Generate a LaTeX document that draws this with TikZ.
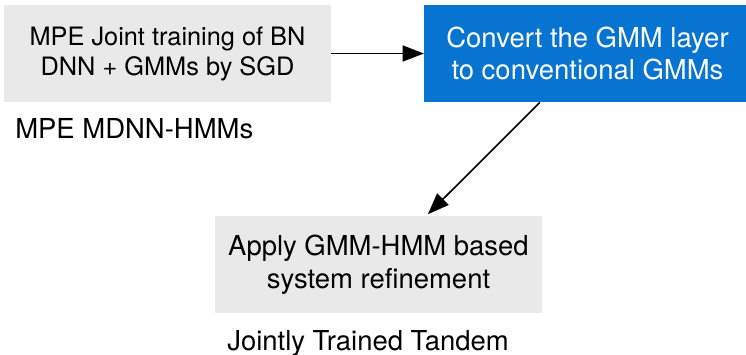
\documentclass[tikz,border=0pt]{standalone}
\usepackage{fontspec}
\setmainfont{TeX Gyre Heros}
\usetikzlibrary{arrows.meta}
\definecolor{StepGray}{HTML}{E9E9E9}
\definecolor{ConvertBlue}{HTML}{0774D2}

\begin{document}
\begin{tikzpicture}[x=0.75pt,y=-0.75pt]

  \useasboundingbox (0,0) rectangle (746,354);

  \node[
    fill=StepGray,
    minimum width=245pt,
    minimum height=73pt,
    align=center,
    font=\fontsize{19}{22.5}\selectfont
  ] (jointTrain) at (167.5,53.5)
    {MPE Joint training of BN\\DNN + GMMs by SGD};

  \node[
    fill=ConvertBlue,
    text=white,
    minimum width=245pt,
    minimum height=73pt,
    align=center,
    font=\fontsize{20.6}{24.5}\selectfont
  ] (convertGmm) at (587.5,53.5)
    {Convert the GMM layer\\to conventional GMMs};

  \node[
    fill=StepGray,
    minimum width=245pt,
    minimum height=73pt,
    align=center,
    font=\fontsize{20.6}{24.5}\selectfont
  ] (refineSys) at (378.5,264.5)
    {Apply GMM-HMM based\\system refinement};

  % system names under the boxes
  \node[
    anchor=base west,
    inner xsep=0pt,
    font=\fontsize{20.6}{24.5}\selectfont
  ] (mdnnLabel) at (15,138.5)
    {MPE MDNN-HMMs};

  \node[
    anchor=base west,
    inner xsep=0pt,
    font=\fontsize{20.6}{24.5}\selectfont
  ] (tandemLabel) at (227,350.5)
    {Jointly Trained Tandem};

  \coordinate (convertOut) at ([xshift=87pt]convertGmm.south west);
  \coordinate (refineIn) at ([xshift=37pt,yshift=1pt]refineSys.north);

  \draw[line width=1.2pt, -{Triangle[length=16pt,width=12pt]}]
    (jointTrain.east) -- (convertGmm.west);

  \draw[line width=1.2pt, -{Triangle[length=16pt,width=12pt]}]
    (convertOut) -- (refineIn);

\end{tikzpicture}
\end{document}
